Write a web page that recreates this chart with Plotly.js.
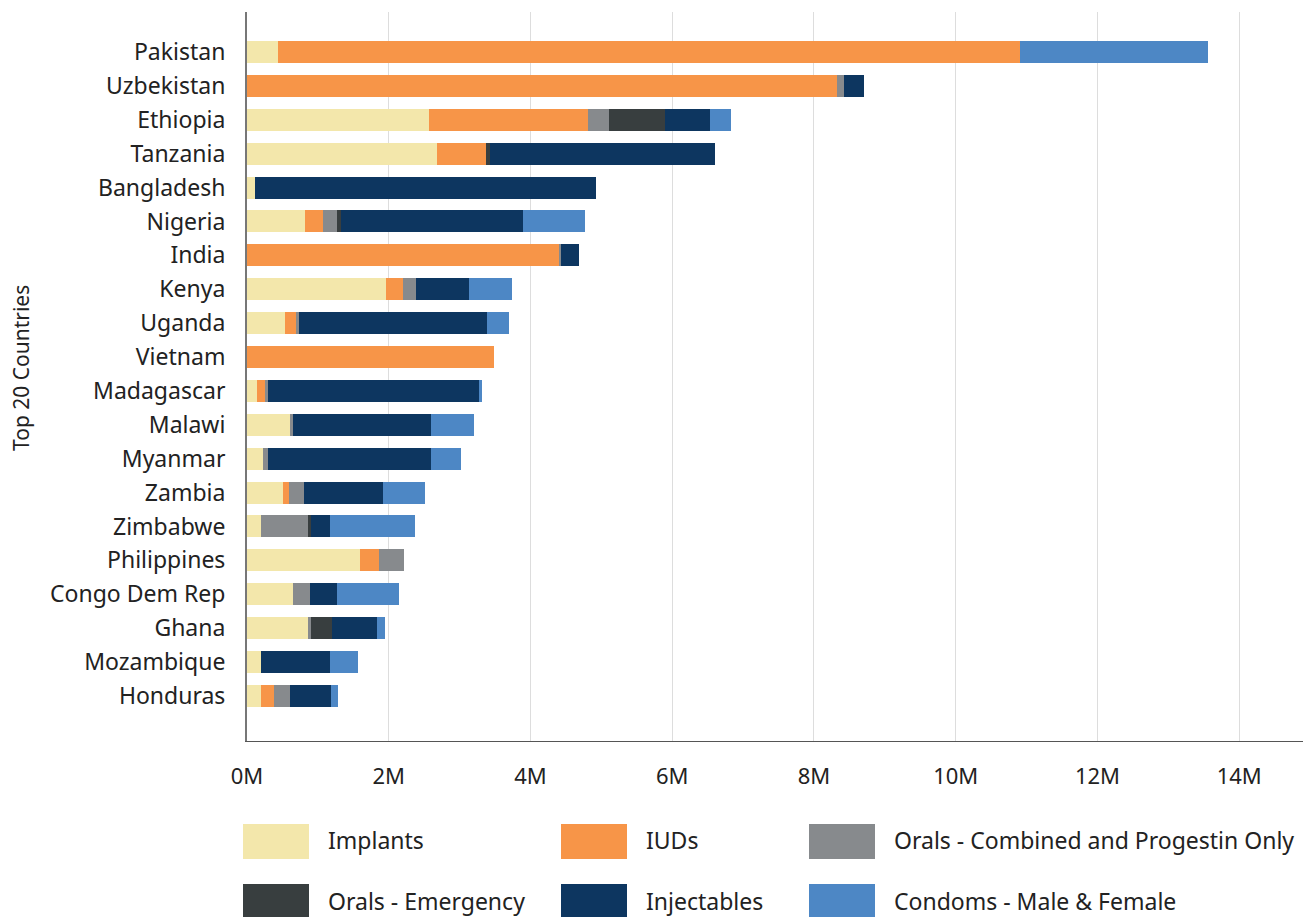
<!DOCTYPE html>
<html>
<head>
<meta charset="utf-8">
<script src="https://cdn.plot.ly/plotly-3.0.1.min.js"></script>
<style>html,body{margin:0;padding:0;background:#fff;}#chart{width:1307px;height:917px;}</style>
</head>
<body>
<div id="chart"></div>
<script>
// Data (millions)
var countries = ["Pakistan","Uzbekistan","Ethiopia","Tanzania","Bangladesh","Nigeria","India","Kenya","Uganda","Vietnam","Madagascar","Malawi","Myanmar","Zambia","Zimbabwe","Philippines","Congo Dem Rep","Ghana","Mozambique","Honduras"];
var seriesNames = ["Implants","IUDs","Orals - Combined and Progestin Only","Orals - Emergency","Injectables","Condoms - Male & Female"];
var implants    = [0.44,0.00,2.57,2.68,0.11,0.82,0.00,1.96,0.54,0.00,0.14,0.61,0.23,0.51,0.20,1.59,0.65,0.86,0.20,0.20];
var iuds        = [10.46,8.32,2.24,0.69,0.00,0.25,4.40,0.24,0.15,3.49,0.11,0.00,0.00,0.08,0.00,0.27,0.00,0.00,0.00,0.18];
var oralsComb   = [0.00,0.11,0.30,0.00,0.00,0.20,0.03,0.19,0.04,0.00,0.05,0.04,0.07,0.21,0.66,0.35,0.24,0.04,0.00,0.23];
var oralsEmerg  = [0.00,0.00,0.79,0.06,0.00,0.06,0.00,0.00,0.00,0.00,0.00,0.00,0.00,0.00,0.04,0.00,0.00,0.30,0.00,0.00];
var injectables = [0.00,0.28,0.63,3.17,4.82,2.56,0.26,0.74,2.66,0.00,2.97,1.95,2.30,1.12,0.27,0.00,0.38,0.64,0.97,0.58];
var condoms     = [2.66,0.00,0.30,0.00,0.00,0.88,0.00,0.61,0.31,0.00,0.04,0.60,0.42,0.59,1.20,0.00,0.88,0.11,0.40,0.09];
var xTickVals = [0,2,4,6,8,10,12,14];
var xTickText = ["0M","2M","4M","6M","8M","10M","12M","14M"];
var yAxisTitle = "Top 20 Countries";

var seriesValues = [implants, iuds, oralsComb, oralsEmerg, injectables, condoms];
var colors = ["#F3E7AB","#F79548","#878A8D","#383E3F","#0D3660","#4D87C5"];

var FONT = "Noto Sans, Open Sans, sans-serif";
var traces = seriesNames.map(function(name, i){
  return {
    type: "bar", orientation: "h", name: name,
    y: countries, x: seriesValues[i],
    marker: {color: colors[i], line: {width: 0}},
    hovertemplate: "%{y}: %{x}M<extra>" + name + "</extra>",
    showlegend: false
  };
});

// Plot area pixel geometry
var L = 247, R = 1303, T = 12, B = 741, W = 1307, H = 917;
function px(x){ return (x - L) / (R - L); }
function py(y){ return (B - y) / (B - T); }

// Legend built from series names/colors
var legX = [243, 561, 809];
var legRowY = [[824, 859], [884, 919]];
var shapes = [], annotations = [];
seriesNames.forEach(function(name, i){
  var col = i % 3, row = Math.floor(i / 3);
  var x0 = legX[col], x1 = x0 + 66;
  var y0 = legRowY[row][0], y1 = legRowY[row][1];
  shapes.push({type: "rect", xref: "paper", yref: "paper",
    x0: px(x0), x1: px(x1), y0: py(y1), y1: py(y0),
    fillcolor: colors[i], line: {width: 0}});
  annotations.push({xref: "paper", yref: "paper", x: px(x1 + 17), y: py((y0 + y1) / 2 - 1),
    xanchor: "left", yanchor: "middle", showarrow: false, text: name,
    font: {family: FONT, size: 23, color: "#222"}});
});
// Y axis title as rotated annotation
annotations.push({xref: "paper", yref: "paper", x: px(21), y: py(368),
  xanchor: "center", yanchor: "middle", showarrow: false, textangle: -90,
  text: yAxisTitle, font: {family: FONT, size: 21, color: "#222"}});

var layout = {
  width: W, height: H,
  margin: {l: L, r: W - R, t: T, b: H - B, pad: 0},
  paper_bgcolor: "#fff", plot_bgcolor: "#fff",
  barmode: "stack", bargap: 0.35,
  showlegend: false,
  font: {family: FONT, size: 22, color: "#222"},
  xaxis: {
    range: [0, 14.9], tickvals: xTickVals, ticktext: xTickText,
    showgrid: true, gridcolor: "#dddddd", gridwidth: 1,
    zeroline: false, showline: true, linecolor: "#555", linewidth: 1,
    ticks: "", ticklabelstandoff: 16,
    tickfont: {family: FONT, size: 22, color: "#222"}
  },
  yaxis: {
    type: "category", categoryorder: "array", categoryarray: countries,
    range: [20.33, -1.18],
    showgrid: false, zeroline: false, showline: true, linecolor: "#777", linewidth: 2,
    ticks: "", ticklabelstandoff: 15,
    tickfont: {family: FONT, size: 23, color: "#222"}
  },
  shapes: shapes,
  annotations: annotations
};

Plotly.newPlot("chart", traces, layout, {displayModeBar: false});
</script>
</body>
</html>
